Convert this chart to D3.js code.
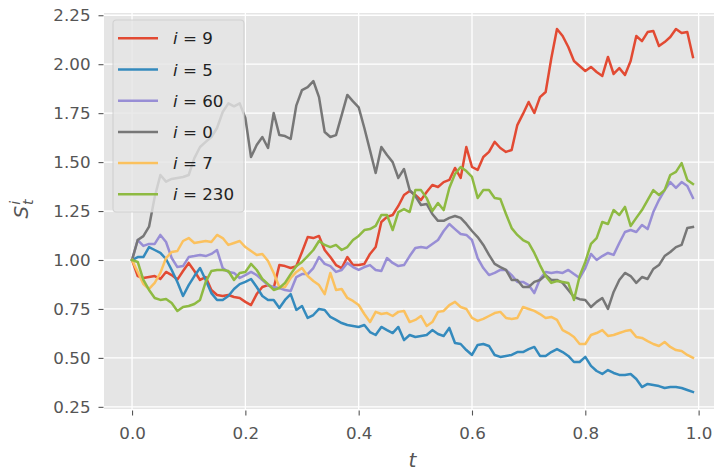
<!DOCTYPE html>
<html>
<head>
<meta charset="utf-8">
<script src="https://cdn.jsdelivr.net/npm/d3@7"></script>
<style>
  html, body { margin: 0; padding: 0; background: #fff; }
  svg { display: block; font-family: "DejaVu Sans", sans-serif; }
  text { white-space: pre; }
</style>
</head>
<body>
<svg id="chart" width="714" height="473"></svg>
<script>
// Time grid of the simulated paths
const t = d3.range(100).map(k => k / 100);

// Simulated paths S_t^i for a handful of indices i
const s9 = [1.00,0.918,0.908,0.913,0.918,0.903,0.939,0.923,0.900,0.944,
  0.985,0.944,0.898,0.913,0.847,0.821,0.816,0.821,0.811,0.806,
  0.786,0.770,0.826,0.862,0.872,0.857,0.974,0.969,0.959,0.969,
  1.041,1.117,1.112,1.123,1.051,1.015,0.974,0.959,1.015,0.974,
  0.974,0.980,1.031,1.066,1.194,1.220,1.230,1.276,1.332,1.352,
  1.332,1.306,1.347,1.383,1.373,1.398,1.409,1.470,1.419,1.577,
  1.475,1.460,1.526,1.552,1.603,1.572,1.552,1.562,1.689,1.746,
  1.807,1.751,1.832,1.858,2.030,2.180,2.144,2.088,2.016,1.991,
  1.965,1.986,1.960,1.940,2.037,1.950,1.980,1.945,2.016,2.144,
  2.118,2.164,2.170,2.093,2.113,2.139,2.180,2.159,2.164,2.037];

const s5 = [1.00,1.015,1.015,1.066,1.051,1.036,1.005,0.949,0.888,0.816,
  0.872,0.918,0.959,0.898,0.831,0.796,0.796,0.816,0.852,0.877,
  0.888,0.903,0.862,0.816,0.796,0.796,0.755,0.796,0.826,0.745,
  0.765,0.704,0.719,0.750,0.745,0.709,0.694,0.678,0.668,0.663,
  0.658,0.668,0.632,0.617,0.658,0.642,0.627,0.658,0.591,0.617,
  0.607,0.612,0.617,0.642,0.622,0.612,0.653,0.576,0.571,0.540,
  0.515,0.566,0.571,0.561,0.515,0.505,0.510,0.515,0.530,0.530,
  0.545,0.556,0.510,0.510,0.530,0.545,0.530,0.510,0.479,0.479,
  0.505,0.459,0.433,0.418,0.438,0.423,0.413,0.413,0.418,0.392,
  0.351,0.367,0.362,0.356,0.346,0.351,0.351,0.346,0.336,0.326];

const s60 = [1.00,1.102,1.072,1.082,1.082,1.128,1.092,1.010,0.964,0.969,
  1.015,1.020,1.026,1.020,1.031,1.051,0.959,0.939,0.934,0.908,
  0.923,0.939,0.923,0.898,0.872,0.862,0.857,0.847,0.842,0.913,
  0.928,0.928,0.959,1.015,0.980,0.969,0.939,0.949,0.985,0.964,
  0.949,0.964,0.974,0.949,0.944,1.010,0.985,0.969,0.974,1.020,
  1.061,1.066,1.061,1.082,1.102,1.148,1.184,1.158,1.133,1.128,
  1.102,1.010,0.959,0.923,0.934,0.949,0.949,0.923,0.888,0.888,
  0.872,0.831,0.903,0.939,0.934,0.939,0.934,0.949,0.928,0.908,
  0.959,1.031,1.000,1.020,1.036,1.026,1.087,1.143,1.153,1.143,
  1.179,1.158,1.245,1.306,1.357,1.398,1.368,1.398,1.378,1.317];

const s0 = [1.00,1.102,1.122,1.170,1.322,1.434,1.400,1.414,1.419,1.424,
  1.434,1.520,1.577,1.603,1.628,1.674,1.756,1.800,1.785,1.800,
  1.725,1.526,1.587,1.628,1.572,1.751,1.638,1.633,1.618,1.790,
  1.868,1.883,1.914,1.832,1.654,1.628,1.638,1.740,1.843,1.810,
  1.780,1.674,1.560,1.444,1.577,1.536,1.500,1.419,1.465,1.357,
  1.327,1.281,1.286,1.235,1.200,1.200,1.215,1.225,1.215,1.184,
  1.148,1.117,1.077,1.026,0.980,0.964,0.949,0.898,0.898,0.862,
  0.862,0.888,0.898,0.923,0.898,0.898,0.883,0.847,0.811,0.800,
  0.796,0.760,0.786,0.806,0.750,0.837,0.898,0.934,0.918,0.883,
  0.913,0.903,0.954,0.974,1.020,1.041,1.066,1.077,1.163,1.169];

const s7 = [1.00,0.939,0.877,0.852,0.883,0.934,1.010,1.041,1.046,1.097,
  1.112,1.087,1.092,1.097,1.092,1.128,1.112,1.077,1.087,1.097,
  1.066,1.046,1.026,1.031,0.995,0.934,0.862,0.862,0.908,0.939,
  0.959,0.918,0.893,0.872,0.826,0.934,0.847,0.852,0.806,0.791,
  0.770,0.724,0.683,0.735,0.724,0.729,0.714,0.735,0.740,0.683,
  0.694,0.714,0.663,0.683,0.735,0.740,0.770,0.786,0.760,0.750,
  0.704,0.689,0.699,0.714,0.729,0.735,0.704,0.699,0.704,0.760,
  0.750,0.740,0.724,0.704,0.709,0.694,0.642,0.627,0.607,0.571,
  0.571,0.617,0.627,0.642,0.612,0.617,0.627,0.637,0.642,0.607,
  0.602,0.586,0.571,0.561,0.581,0.556,0.540,0.535,0.515,0.500];

const s230 = [1.00,0.990,0.898,0.847,0.806,0.796,0.801,0.780,0.740,0.760,
  0.765,0.775,0.796,0.888,0.944,0.949,0.949,0.944,0.898,0.934,
  0.939,0.980,0.949,0.903,0.877,0.847,0.857,0.883,0.928,0.969,
  0.990,1.020,1.051,1.097,1.077,1.066,1.077,1.051,1.066,1.102,
  1.123,1.153,1.158,1.174,1.230,1.230,1.153,1.245,1.260,1.245,
  1.357,1.357,1.316,1.250,1.291,1.255,1.368,1.439,1.475,1.454,
  1.424,1.317,1.357,1.357,1.317,1.312,1.235,1.163,1.128,1.102,
  1.087,1.036,0.974,0.918,0.883,0.893,0.888,0.883,0.796,0.918,
  0.990,1.082,1.112,1.194,1.184,1.255,1.230,1.271,1.174,1.215,
  1.255,1.306,1.357,1.332,1.357,1.434,1.450,1.495,1.409,1.388];

const seriesIndex = ["9", "5", "60", "0", "7", "230"];
const seriesValues = [s9, s5, s60, s0, s7, s230];
const seriesColors = ["#E24A33", "#348ABD", "#988ED5", "#777777", "#FBC15E", "#8EBA42"];

const xTicks = [0.0, 0.2, 0.4, 0.6, 0.8, 1.0];
const yTicks = [0.25, 0.50, 0.75, 1.00, 1.25, 1.50, 1.75, 2.00, 2.25];

// ---- layout ----
const W = 714, H = 473;
const area = { left: 104, top: 13, right: 721, bottom: 409 };

const x = d3.scaleLinear().domain([-0.0495, 1.0395]).range([area.left, area.right]);
const y = d3.scaleLinear().domain([0.239, 2.2615]).range([area.bottom, area.top]);

const svg = d3.select("#chart");
svg.append("rect").attr("width", W).attr("height", H).attr("fill", "#fff");

// panel background
svg.append("rect")
  .attr("x", area.left).attr("y", area.top)
  .attr("width", area.right - area.left).attr("height", area.bottom - area.top)
  .attr("fill", "#E5E5E5");

// grid
const grid = svg.append("g").attr("stroke", "#fff").attr("stroke-width", 1.3);
grid.selectAll("line.gx").data(xTicks).join("line")
  .attr("x1", d => x(d)).attr("x2", d => x(d))
  .attr("y1", area.top).attr("y2", area.bottom);
grid.selectAll("line.gy").data(yTicks).join("line")
  .attr("x1", area.left).attr("x2", area.right)
  .attr("y1", d => y(d)).attr("y2", d => y(d));

// axes
const xAxis = d3.axisBottom(x).tickValues(xTicks).tickFormat(d3.format(".1f"))
  .tickSize(5).tickPadding(8);
const yAxis = d3.axisLeft(y).tickValues(yTicks).tickFormat(d3.format(".2f"))
  .tickSize(5).tickPadding(8);

const gx = svg.append("g").attr("transform", `translate(0,${area.bottom + 1.5})`).call(xAxis);
const gy = svg.append("g").attr("transform", `translate(${area.left - 0.5},0)`).call(yAxis);
[gx, gy].forEach(g => {
  g.select(".domain").remove();
  g.selectAll(".tick line").attr("stroke", "#555").attr("stroke-width", 1.1);
  g.selectAll(".tick text")
    .attr("fill", "#555")
    .style("font-family", "'DejaVu Sans', sans-serif")
    .style("font-size", "16.7px");
});
gx.selectAll(".tick text").attr("dy", "0.95em");

// paths
const line = d3.line().x((d, k) => x(t[k])).y(d => y(d));
svg.append("g").selectAll("path").data(seriesValues).join("path")
  .attr("d", d => line(d))
  .attr("fill", "none")
  .attr("stroke", (d, k) => seriesColors[k])
  .attr("stroke-width", 2.5)
  .attr("stroke-linejoin", "round")
  .attr("stroke-linecap", "square");

// axis labels
svg.append("text")
  .attr("x", (area.left + area.right) / 2).attr("y", 467)
  .attr("text-anchor", "middle")
  .attr("fill", "#555")
  .style("font-size", "20px").style("font-style", "italic")
  .text("t");

const yl = svg.append("text")
  .attr("transform", `translate(28,209) rotate(-90)`)
  .attr("text-anchor", "middle")
  .attr("fill", "#555")
  .style("font-size", "20px");
yl.append("tspan").style("font-style", "italic").text("S");
yl.append("tspan").style("font-style", "italic").style("font-size", "14px")
  .attr("dy", -8).attr("dx", 1).text("i");
yl.append("tspan").style("font-style", "italic").style("font-size", "14px")
  .attr("dy", 13).attr("dx", -4).text("t");

// legend
const lg = { x: 113, y: 20, w: 131, h: 192, row0: 38.3, step: 31.2 };
const legend = svg.append("g");
legend.append("rect")
  .attr("x", lg.x).attr("y", lg.y).attr("width", lg.w).attr("height", lg.h)
  .attr("rx", 3.5)
  .attr("fill", "#E5E5E5").attr("fill-opacity", 0.8)
  .attr("stroke", "#CCCCCC").attr("stroke-opacity", 0.8).attr("stroke-width", 1.1);
const rows = legend.selectAll("g.row").data(seriesIndex).join("g")
  .attr("transform", (d, k) => `translate(0,${lg.row0 + k * lg.step})`);
rows.append("line")
  .attr("x1", 118).attr("x2", 158).attr("y1", 0).attr("y2", 0)
  .attr("stroke", (d, k) => seriesColors[k]).attr("stroke-width", 2.5);
const lt = rows.append("text")
  .attr("x", 173).attr("y", 6)
  .attr("fill", "#222")
  .style("font-size", "16.7px");
lt.append("tspan").style("font-style", "italic").text("i");
lt.append("tspan").text(d => " = " + d);
</script>
</body>
</html>
